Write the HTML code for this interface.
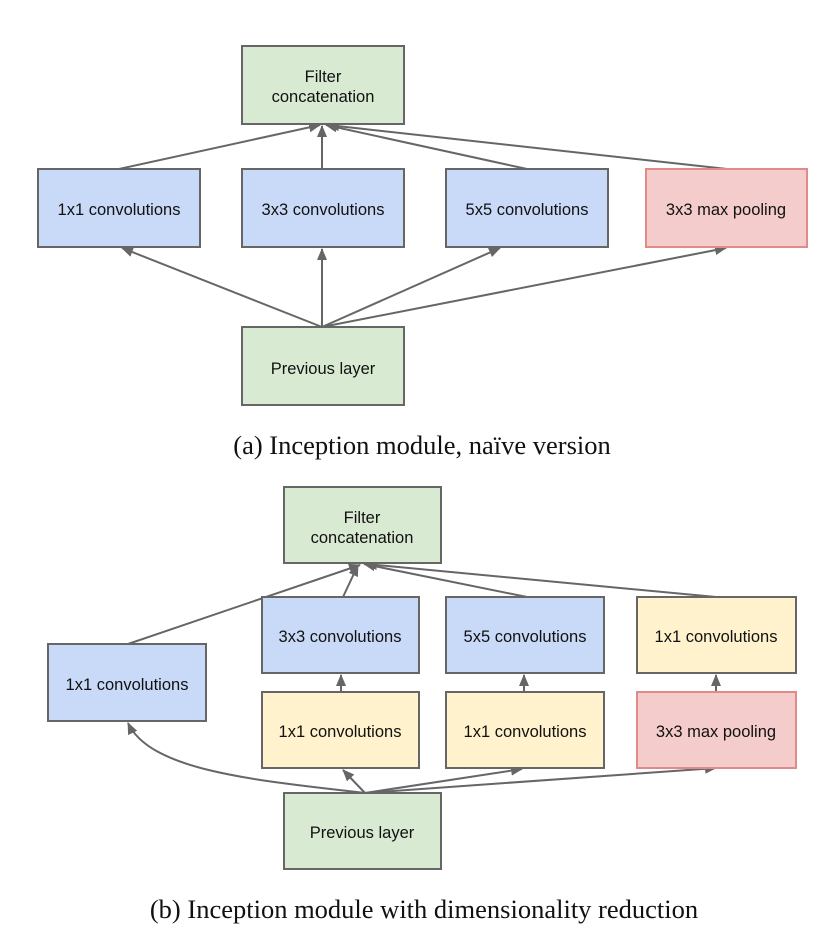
<!DOCTYPE html>
<html><head><style>
body{margin:0;background:#fff;width:828px;height:942px;overflow:hidden}
</style></head><body>
<svg width="828" height="942" xmlns="http://www.w3.org/2000/svg" font-family="Liberation Sans, sans-serif">
<defs><marker id="a" markerWidth="12" markerHeight="10" refX="11" refY="5" orient="auto" markerUnits="userSpaceOnUse"><path d="M0,0 L12,5 L0,10z" fill="#666"/></marker></defs>
<g stroke="#666" stroke-width="2" fill="none" marker-end="url(#a)">
<line x1="119" y1="169" x2="320" y2="125"/>
<line x1="322" y1="169" x2="322" y2="126"/>
<line x1="527" y1="169" x2="326" y2="125"/>
<line x1="727" y1="169" x2="328" y2="125"/>
<line x1="322" y1="327" x2="122" y2="248"/>
<line x1="322" y1="327" x2="322" y2="249"/>
<line x1="322" y1="327" x2="500" y2="248"/>
<line x1="322" y1="327" x2="726" y2="248"/>
<line x1="128" y1="644" x2="360" y2="565"/>
<line x1="343" y1="597" x2="358" y2="565"/>
<line x1="527" y1="597" x2="364" y2="564"/>
<line x1="716" y1="597" x2="366" y2="564"/>
<line x1="341" y1="692" x2="341" y2="675"/>
<line x1="524" y1="692" x2="524" y2="675"/>
<line x1="716" y1="692" x2="716" y2="675"/>
<path d="M365,793 C250,780 150,770 128,723"/>
<line x1="365" y1="793" x2="343" y2="770"/>
<line x1="365" y1="793" x2="522" y2="769"/>
<line x1="365" y1="793" x2="716" y2="768"/>
</g>
<g stroke="#666" stroke-width="2">
<rect x="242" y="46" width="162" height="78" fill="#d9ead3"/>
<rect x="38" y="169" width="162" height="78" fill="#c9daf8"/>
<rect x="242" y="169" width="162" height="78" fill="#c9daf8"/>
<rect x="446" y="169" width="162" height="78" fill="#c9daf8"/>
<rect x="646" y="169" width="161" height="78" fill="#f4cccc" stroke="#e08a8a"/>
<rect x="242" y="327" width="162" height="78" fill="#d9ead3"/>
<rect x="284" y="487" width="157" height="76" fill="#d9ead3"/>
<rect x="262" y="597" width="157" height="76" fill="#c9daf8"/>
<rect x="446" y="597" width="158" height="76" fill="#c9daf8"/>
<rect x="637" y="597" width="159" height="76" fill="#fff2cc"/>
<rect x="48" y="644" width="158" height="77" fill="#c9daf8"/>
<rect x="262" y="692" width="157" height="76" fill="#fff2cc"/>
<rect x="446" y="692" width="158" height="76" fill="#fff2cc"/>
<rect x="637" y="692" width="159" height="76" fill="#f4cccc" stroke="#e08a8a"/>
<rect x="284" y="793" width="157" height="76" fill="#d9ead3"/>
</g>
<g font-size="16.5" fill="#111" text-anchor="middle">
<text x="323" y="82">Filter</text><text x="323" y="102">concatenation</text>
<text x="119" y="215">1x1 convolutions</text>
<text x="323" y="215">3x3 convolutions</text>
<text x="527" y="215">5x5 convolutions</text>
<text x="726" y="215">3x3 max pooling</text>
<text x="323" y="374">Previous layer</text>
<text x="362" y="523">Filter</text><text x="362" y="543">concatenation</text>
<text x="340" y="642">3x3 convolutions</text>
<text x="525" y="642">5x5 convolutions</text>
<text x="716" y="642">1x1 convolutions</text>
<text x="127" y="690">1x1 convolutions</text>
<text x="340" y="737">1x1 convolutions</text>
<text x="525" y="737">1x1 convolutions</text>
<text x="716" y="737">3x3 max pooling</text>
<text x="362" y="838">Previous layer</text>
</g>
<g font-family="Liberation Serif, serif" font-size="26.5" fill="#111" text-anchor="middle">
<text x="422" y="454">(a)  Inception module, naïve version</text>
<text x="424" y="918">(b)  Inception module with dimensionality reduction</text>
</g>
</svg>
</body></html>
